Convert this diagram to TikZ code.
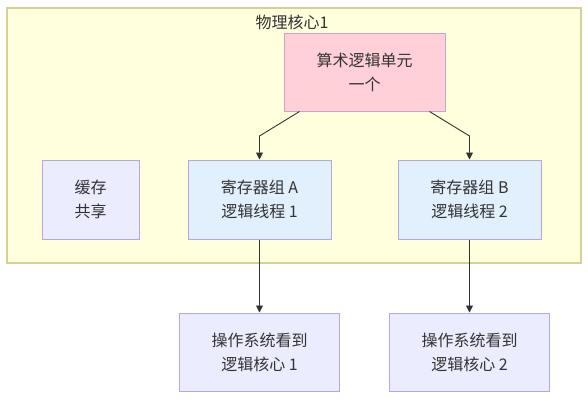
\documentclass[tikz,border=0pt]{standalone}
\usepackage{fontspec}
\setmainfont{Noto Sans CJK SC}
\usetikzlibrary{arrows.meta}
\definecolor{txt}{HTML}{333333}
\definecolor{clfill}{HTML}{FFFFDE}
\definecolor{clstroke}{HTML}{D2D296}
\definecolor{alufill}{HTML}{FFD0D8}
\definecolor{alustroke}{HTML}{C9A4C4}
\definecolor{regfill}{HTML}{E2F0FE}
\definecolor{purfill}{HTML}{ECECFF}
\definecolor{purstroke}{HTML}{B4A8E2}
\tikzset{
  box/.style={rectangle, draw=purstroke, line width=1pt, align=center, text=txt,
    font=\fontsize{16}{24}\selectfont, inner sep=0pt},
  arr/.style={draw=txt, line width=0.9pt, -{Triangle[width=7pt,length=7pt]}},
}
\begin{document}
\begin{tikzpicture}[x=1pt,y=-1pt]
\useasboundingbox (0,0) rectangle (588,400);
\fill[white] (0,0) rectangle (588,400);
\node[rectangle, draw=clstroke, fill=clfill, line width=1.2pt, minimum width=574pt, minimum height=255pt, inner sep=0pt] (core) at (294,135.5) {};
\node[text=txt, font=\fontsize{16}{18}\selectfont, inner sep=0pt] (title) at (292,22) {物理核心1};
\node[box, draw=alustroke, fill=alufill, minimum width=161pt, minimum height=78pt] (alu) at (364.5,72) {算术逻辑单元\\一个};
\node[box, fill=purfill, minimum width=97pt, minimum height=79pt] (cache) at (90.5,199.5) {缓存\\共享};
\node[box, fill=regfill, minimum width=143pt, minimum height=79pt] (regA) at (259.5,199.5) {寄存器组 A\\逻辑线程 1};
\node[box, fill=regfill, minimum width=143pt, minimum height=79pt] (regB) at (469.5,199.5) {寄存器组 B\\逻辑线程 2};
\node[box, fill=purfill, minimum width=160pt, minimum height=78pt] (os1) at (259.5,352) {操作系统看到\\逻辑核心 1};
\node[box, fill=purfill, minimum width=160pt, minimum height=78pt] (os2) at (469.5,352) {操作系统看到\\逻辑核心 2};
\coordinate (bA) at (259.5,136);
\coordinate (bB) at (469.5,136);
\draw[arr] ([xshift=16pt]alu.south west) -- (bA) -- (regA.north);
\draw[arr] ([xshift=-16pt]alu.south east) -- (bB) -- (regB.north);
\draw[arr] (regA.south) -- (os1.north);
\draw[arr] (regB.south) -- (os2.north);
\end{tikzpicture}
\end{document}
